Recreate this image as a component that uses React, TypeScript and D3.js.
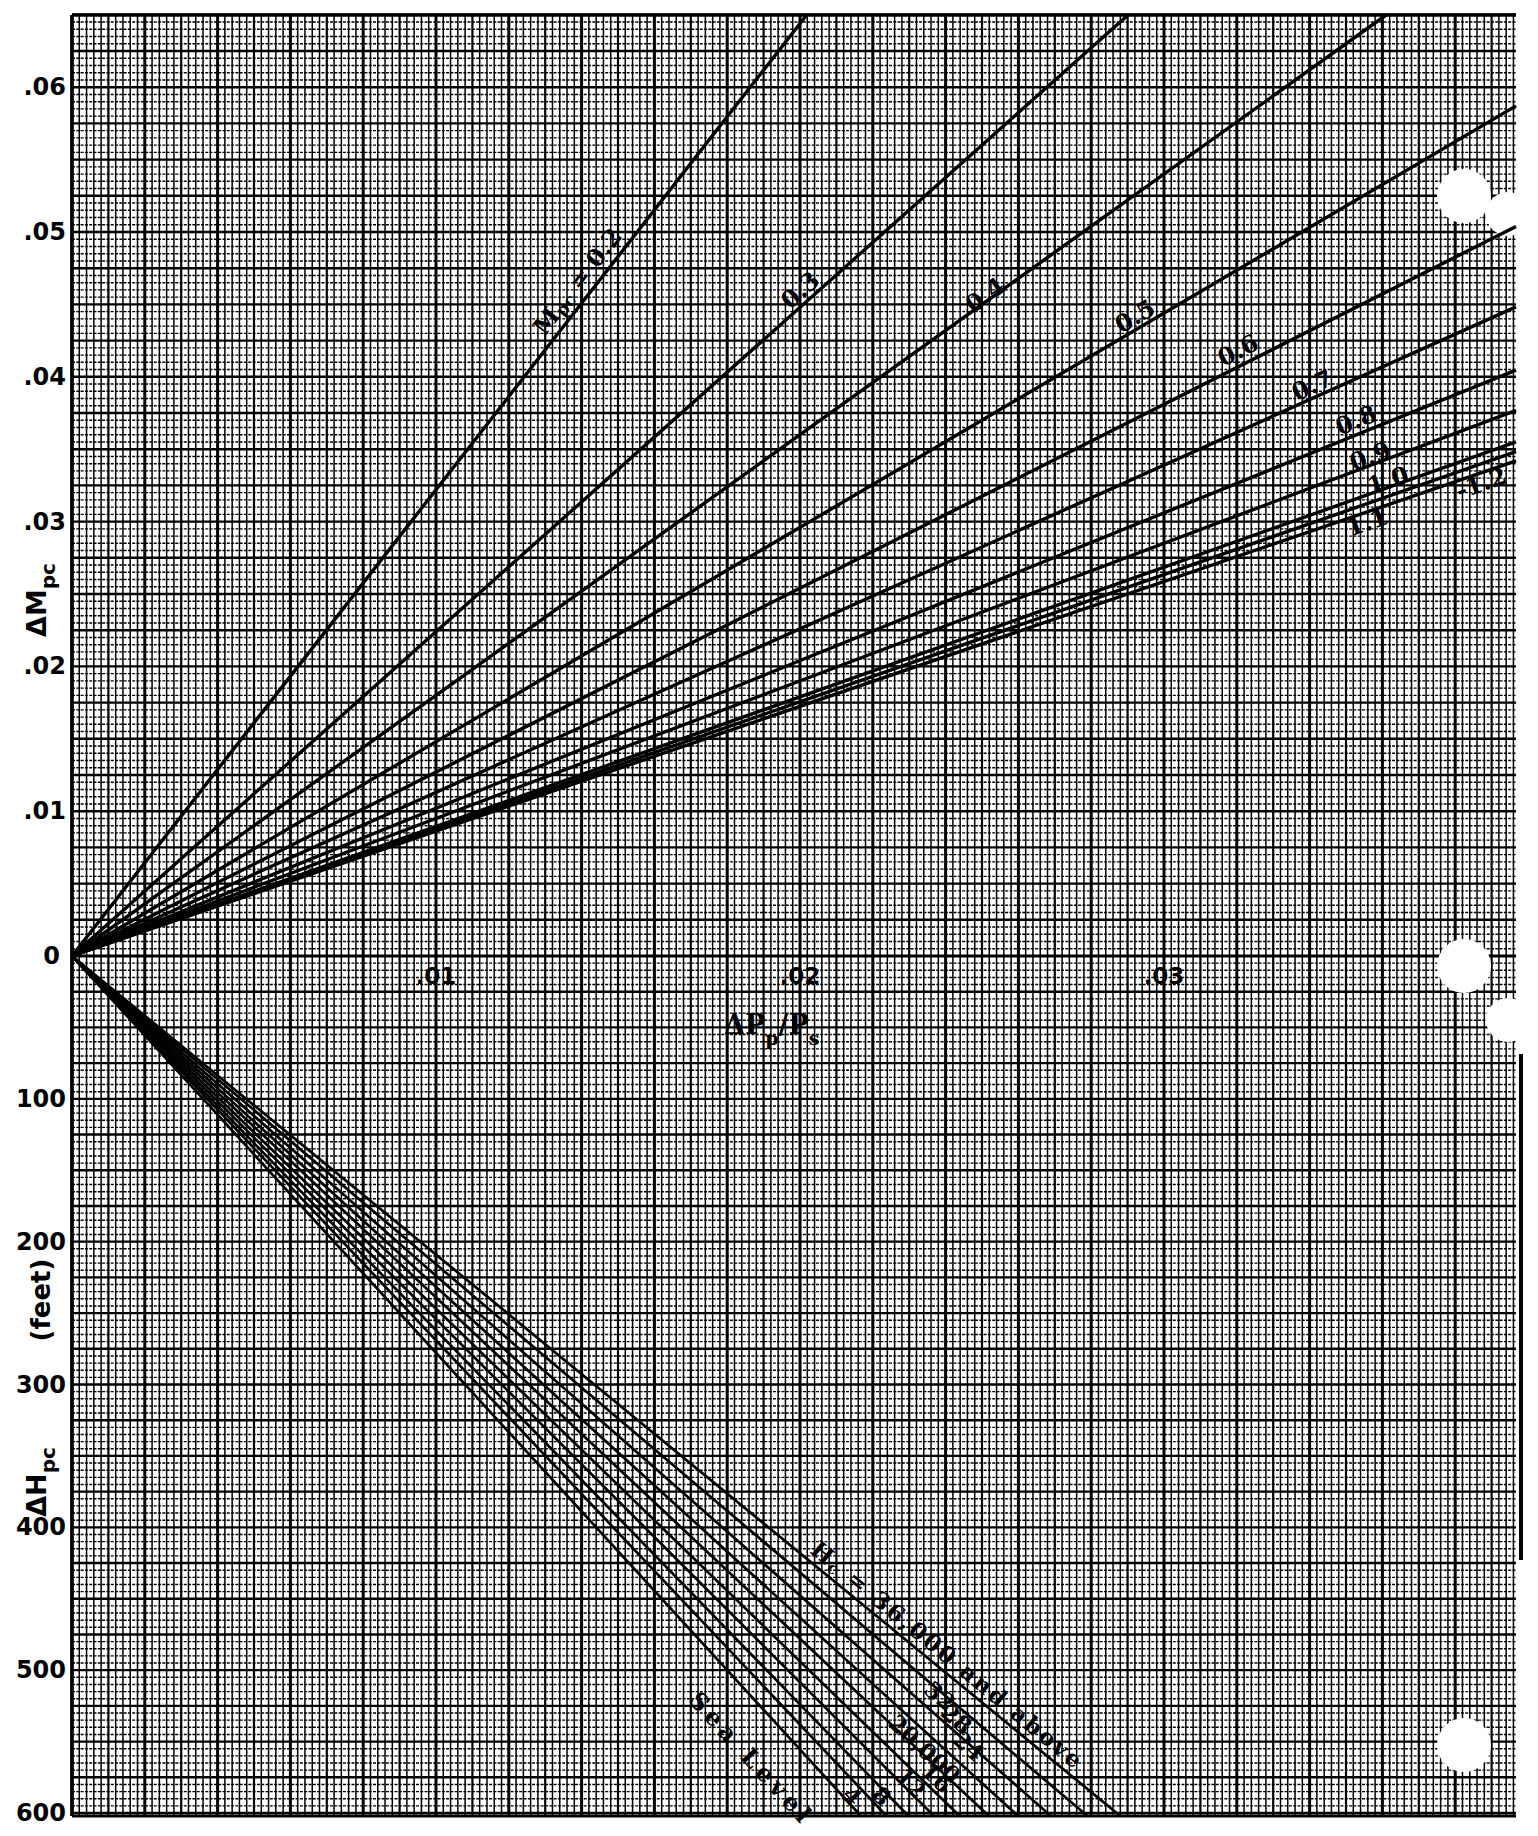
import React from 'react';
import * as d3 from 'd3';

// ---------- data ----------
const machLabels = ['0.2', '0.3', '0.4', '0.5', '0.6', '0.7', '0.8', '0.9', '1.0', '1.1', '1.2'];
// slope dM/(dP/Ps) of each Mach line
const machSlopes = [3.22, 2.24, 1.8, 1.48, 1.27, 1.13, 1.02, 0.95, 0.895, 0.862, 0.878];
// label anchor (dP/Ps, dM) for each Mach line
const machLabelX = [0.01387, 0.0200, 0.02508, 0.0292, 0.03203, 0.03407, 0.03527, 0.03566, 0.03615, 0.03558, 0.03871];
const machLabelY = [0.04661, 0.0460, 0.04565, 0.0442, 0.04185, 0.03943, 0.03702, 0.03453, 0.03287, 0.02997, 0.03267];

const altLabels = ['Sea Level', '4', '8', '12', '16', '20,000', '24', '28', '32', '36,000 and above'];
// dP/Ps at which each altitude line reaches dH = 600 ft
const dpAt600 = [0.0216, 0.0223, 0.0229, 0.0236, 0.0243, 0.0251, 0.0259, 0.0268, 0.0278, 0.0287];
const altLabelX = [0.01868, 0.02143, 0.02225, 0.02305, 0.02376, 0.02343, 0.02464, 0.02431, 0.02385, 0.02407];
const altLabelY = [562, 588, 588, 579, 575, 555, 553, 534, 518, 489];

const dmTicks = [0.01, 0.02, 0.03, 0.04, 0.05, 0.06];
const dmTickLabels = ['.01', '.02', '.03', '.04', '.05', '.06'];
const dhTicks = [100, 200, 300, 400, 500, 600];
const dhTickLabels = ['100', '200', '300', '400', '500', '600'];
const dpTicks = [0.01, 0.02, 0.03];
const dpTickLabels = ['.01', '.02', '.03'];

// ---------- scales ----------
const x = d3.scaleLinear().domain([0, 0.01]).range([72, 436]);
const yUp = d3.scaleLinear().domain([0, 0.06]).range([956, 87.2]);
const yDn = d3.scaleLinear().domain([0, 600]).range([956, 1813]);
const xMax = x.invert(1516);
const dmMax = yUp.invert(15);
const dhMax = yDn.invert(1816);

const NUM = '"DejaVu Sans", Verdana, sans-serif';
const SERIF = '"DejaVu Serif", "Liberation Serif", serif';

function gridLines() {
  const els: any[] = [];
  const nx = Math.floor(xMax / 0.0002 + 1e-6);
  for (let i = 0; i <= nx; i++) {
    const px = x(i * 0.0002);
    const w = i % 10 === 0 ? 3 : i % 5 === 0 ? 2.2 : 1.5;
    els.push(<line key={'v' + i} x1={px} x2={px} y1={yUp(dmMax)} y2={yDn(dhMax)} stroke="#000" strokeWidth={w} />);
  }
  const nu = Math.round(dmMax / 0.0005);
  for (let i = 1; i <= nu; i++) {
    const py = yUp(i * 0.0005);
    const w = i % 5 === 0 ? 2.4 : 1.4;
    els.push(<line key={'hu' + i} x1={x(0)} x2={x(xMax)} y1={py} y2={py} stroke="#000" strokeWidth={w} strokeDasharray={i % 5 === 0 ? undefined : '3 1.3'} />);
  }
  const nd = Math.floor(dhMax / 5 + 1e-6);
  for (let i = 1; i <= nd; i++) {
    const py = yDn(i * 5);
    const w = i % 5 === 0 ? 2.4 : 1.4;
    els.push(<line key={'hd' + i} x1={x(0)} x2={x(xMax)} y1={py} y2={py} stroke="#000" strokeWidth={w} strokeDasharray={i % 5 === 0 ? undefined : '3 1.3'} />);
  }
  return els;
}

export default function App() {
  const lineGen = d3.line<[number, number]>();

  const upperLines = machSlopes.map((k, i) => {
    const xe = Math.min(xMax, dmMax / k);
    const pts: [number, number][] = [[x(0), yUp(0)], [x(xe), yUp(k * xe)]];
    return <path key={'m' + i} d={lineGen(pts) || ''} stroke="#000" strokeWidth={3.4} fill="none" />;
  });

  const lowerLines = dpAt600.map((dp, i) => {
    const s = 600 / dp;
    const xe = Math.min(xMax, dhMax / s);
    const pts: [number, number][] = [[x(0), yDn(0)], [x(xe), yDn(s * xe)]];
    return <path key={'h' + i} d={lineGen(pts) || ''} stroke="#000" strokeWidth={2.7} fill="none" />;
  });

  const machText = machLabels.map((lab, i) => {
    const k = machSlopes[i];
    const ang = (Math.atan2(yUp(k * 0.01) - yUp(0), x(0.01) - x(0)) * 180) / Math.PI;
    const px = x(machLabelX[i]);
    const py = yUp(machLabelY[i]);
    return (
      <text key={'ml' + i} transform={`translate(${px},${py}) rotate(${ang})`} textAnchor="middle" dominantBaseline="central"
        fontFamily={SERIF} fontWeight="bold" fontSize={24} fill="#000">
        {i === 0 ? (
          <>
            <tspan>M</tspan>
            <tspan fontSize={17} dy={6}>pc</tspan>
            <tspan dy={-6}> = 0.2</tspan>
          </>
        ) : i === 10 ? ('-' + lab) : lab}
      </text>
    );
  });

  const altText = altLabels.map((lab, i) => {
    const s = 600 / dpAt600[i];
    const ang = (Math.atan2(yDn(s * 0.01) - yDn(0), x(0.01) - x(0)) * 180) / Math.PI;
    const px = x(altLabelX[i]);
    const py = yDn(altLabelY[i]);
    return (
      <text key={'al' + i} transform={`translate(${px},${py}) rotate(${ang})`} textAnchor="middle" dominantBaseline="central"
        fontFamily={SERIF} fontWeight="bold" fontSize={i === 0 ? 24 : 23} fill="#000" letterSpacing={i === 9 ? 2.5 : i === 0 ? 5 : 0}>
        {i === 9 ? (
          <>
            <tspan>H</tspan>
            <tspan fontSize={16} dy={6}>c</tspan>
            <tspan dy={-6}>{'  =  ' + lab}</tspan>
          </>
        ) : lab}
      </text>
    );
  });

  return (
    <svg width={1538} height={1836} style={{ position: 'absolute', left: 0, top: 0, background: '#fff' }}>
      <rect x={0} y={0} width={1538} height={1836} fill="#fff" />
      <g>{gridLines()}</g>
      {/* plot frame */}
      <line x1={x(0)} x2={x(0)} y1={yUp(dmMax)} y2={yDn(dhMax)} stroke="#000" strokeWidth={3.5} />
      <line x1={x(0)} x2={x(xMax)} y1={yUp(dmMax)} y2={yUp(dmMax)} stroke="#000" strokeWidth={3.5} />
      <line x1={x(0)} x2={x(xMax)} y1={yDn(dhMax)} y2={yDn(dhMax)} stroke="#000" strokeWidth={3} />
      <line x1={x(0)} x2={x(xMax)} y1={yUp(0)} y2={yUp(0)} stroke="#000" strokeWidth={3} />
      <line x1={x(xMax) + 5} x2={x(xMax) + 5} y1={1054} y2={1560} stroke="#000" strokeWidth={4} />
      {/* punch holes */}
      <circle cx={1464} cy={196} r={27} fill="#fff" />
      <circle cx={1508} cy={214} r={22} fill="#fff" />
      <circle cx={1464} cy={966} r={27} fill="#fff" />
      <circle cx={1508} cy={1020} r={22} fill="#fff" />
      <circle cx={1464} cy={1745} r={27} fill="#fff" />

      <g>{upperLines}</g>
      <g>{lowerLines}</g>
      <g>{machText}</g>
      <g>{altText}</g>

      {/* y tick labels */}
      {dmTicks.map((v, i) => (
        <text key={'dt' + i} x={66} y={yUp(v)} textAnchor="end" dominantBaseline="central" fontFamily={NUM} fontWeight="bold" fontSize={24} fill="#000">{dmTickLabels[i]}</text>
      ))}
      <text x={60} y={yUp(0)} textAnchor="end" dominantBaseline="central" fontFamily={NUM} fontWeight="bold" fontSize={24} fill="#000">0</text>
      {dhTicks.map((v, i) => (
        <text key={'ht' + i} x={66} y={yDn(v)} textAnchor="end" dominantBaseline="central" fontFamily={NUM} fontWeight="bold" fontSize={24} fill="#000">{dhTickLabels[i]}</text>
      ))}
      {/* x tick labels */}
      {dpTicks.map((v, i) => (
        <text key={'pt' + i} x={x(v)} y={984} textAnchor="middle" fontFamily={NUM} fontWeight="bold" fontSize={23} fill="#000">{dpTickLabels[i]}</text>
      ))}
      {/* x title */}
      <text x={724} y={1034} fontFamily={SERIF} fontWeight="bold" fontSize={27} fill="#000">
        <tspan>ΔP</tspan>
        <tspan fontSize={19} dy={11}>p</tspan>
        <tspan dy={-11}>/P</tspan>
        <tspan fontSize={19} dy={11}>s</tspan>
      </text>
      {/* y titles */}
      <text transform={`translate(46,600) rotate(-90)`} textAnchor="middle" fontFamily={NUM} fontWeight="bold" fontSize={27} fill="#000">
        <tspan>ΔM</tspan>
        <tspan fontSize={20} dy={9}>pc</tspan>
      </text>
      <text transform={`translate(46,1482) rotate(-90)`} textAnchor="middle" fontFamily={NUM} fontWeight="bold" fontSize={27} fill="#000">
        <tspan>ΔH</tspan>
        <tspan fontSize={20} dy={9}>pc</tspan>
      </text>
      <text transform={`translate(50,1300) rotate(-90)`} textAnchor="middle" fontFamily={NUM} fontWeight="bold" fontSize={26} fill="#000">(feet)</text>
    </svg>
  );
}
